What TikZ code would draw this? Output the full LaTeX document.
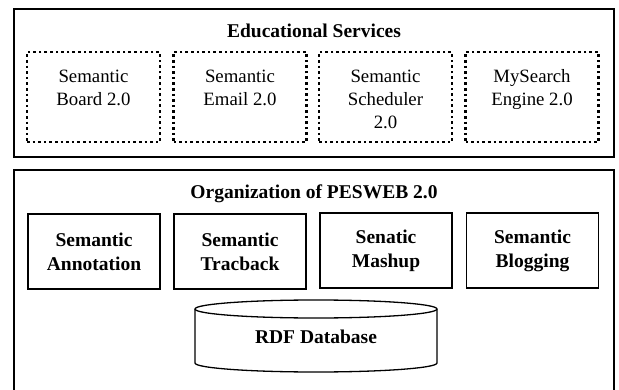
\documentclass[tikz,border=0pt]{standalone}
\usepackage{fontspec}
\setmainfont{Liberation Serif}
\begin{document}
\begin{tikzpicture}[x=1pt,y=1pt,
  outerbox/.style={draw=black, line width=1.4pt},
  dotbox/.style={draw=black, line width=2.2pt, dash pattern=on 2.6pt off 3pt, minimum width=133pt, minimum height=90pt, inner sep=0pt},
  svctext/.style={align=center, inner sep=0pt, anchor=north, font=\fontsize{18.8}{23}\selectfont},
  modbox/.style={draw=black, line width=1.2pt, minimum width=132pt, minimum height=75pt, align=center, inner sep=0pt, font=\fontsize{19.5}{24}\selectfont\bfseries},
  titletext/.style={font=\fontsize{19.5}{23}\selectfont\bfseries, inner sep=0pt}]
\useasboundingbox (0,0) rectangle (619,389);
\fill[white] (0,0) rectangle (619,389);
% outer frames
\draw[outerbox] (14,232) rectangle (614,380);
\begin{scope}
\clip (0,0) rectangle (619,389);
\draw[outerbox] (14,-10) rectangle (614,219);
\end{scope}
% titles
\node[titletext] (edu) at (314,358) {Educational Services};
\node[titletext] (org) at (314,195) {Organization of PESWEB 2.0};
% educational services
\node[dotbox] (s1) at (93.5,292) {};
\node[dotbox] (s2) at (240,292) {};
\node[dotbox] (s3) at (385.5,292) {};
\node[dotbox] (s4) at (532,292) {};
\node[svctext] (t1) at ([yshift=-18.5pt]s1.north) {Semantic\\Board 2.0};
\node[svctext] (t2) at ([yshift=-18.5pt]s2.north) {Semantic\\Email 2.0};
\node[svctext] (t3) at ([yshift=-18.5pt]s3.north) {Semantic\\Scheduler\\2.0};
\node[svctext] (t4) at ([yshift=-18.5pt]s4.north) {MySearch\\Engine 2.0};
% modules
\node[modbox] (m1) at (94,137.5) {Semantic\\Annotation};
\node[modbox] (m2) at (240,137.5) {Semantic\\Tracback};
\node[modbox] (m3) at (386,138.5) {Senatic\\Mashup};
\node[modbox] (m4) at (532.5,138.5) {Semantic\\Blogging};
% RDF database cylinder
\filldraw[fill=white, draw=black, line width=1.3pt] (195,80) -- (195,26) arc[start angle=180, end angle=360, x radius=121, y radius=9] -- (437,80) arc[start angle=0, end angle=180, x radius=121, y radius=9] -- cycle;
\draw[line width=1.3pt] (195,80) arc[start angle=180, end angle=360, x radius=121, y radius=9];
\node[font=\fontsize{19.5}{23}\selectfont\bfseries, inner sep=0pt] (db) at (316,52) {RDF Database};
\end{tikzpicture}
\end{document}
